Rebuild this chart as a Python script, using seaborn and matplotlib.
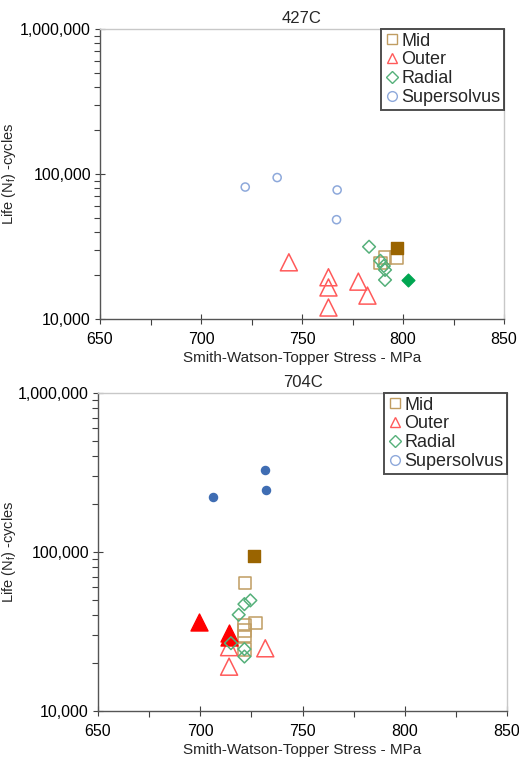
import numpy as np
import pandas as pd
import matplotlib
matplotlib.use("Agg")
import matplotlib.pyplot as plt
import seaborn as sns
from matplotlib.ticker import FuncFormatter, LogLocator, MultipleLocator, NullFormatter
from matplotlib.lines import Line2D

sns.set_theme(style="white")
plt.rcParams['font.family'] = ['Liberation Sans', 'DejaVu Sans']
plt.rcParams['mathtext.default'] = 'regular'

# ---------------- data: 427C ----------------
t427_mid_x = [788.8, 791.1, 796.7]
t427_mid_y = [24400, 26600, 26600]
t427_mid_fill_x = [797.2]
t427_mid_fill_y = [30700]
t427_outer_x = [743.5, 763.1, 763.1, 763.1, 777.9, 782.4]
t427_outer_y = [24600, 19400, 16500, 12000, 18100, 14500]
t427_radial_x = [783.2, 788.8, 790.5, 791.1, 791.1]
t427_radial_y = [31500, 25200, 23200, 21800, 18600]
t427_radial_fill_x = [802.5]
t427_radial_fill_y = [18600]
t427_super_x = [721.9, 737.7, 767.4, 767.1]
t427_super_y = [81300, 94500, 77600, 48400]

# ---------------- data: 704C ----------------
t704_mid_x = [722.0, 727.0, 721.7, 721.7, 721.7, 721.7]
t704_mid_y = [63700, 35700, 34800, 32100, 29700, 24400]
t704_mid_fill_x = [726.1]
t704_mid_fill_y = [95000]
t704_outer_x = [714.1, 714.1, 731.8]
t704_outer_y = [25200, 19000, 24800]
t704_outer_fill_x = [699.2, 714.2, 714.2]
t704_outer_fill_y = [36500, 31000, 29000]
t704_radial_x = [724.5, 721.6, 718.8, 715.0, 721.6, 721.6]
t704_radial_y = [49600, 47000, 40300, 26700, 24500, 22000]
t704_super_fill_x = [706.1, 731.7, 732.2]
t704_super_fill_y = [221000, 329000, 245000]

titles = ["427C", "704C"]
series_names = ["Mid", "Outer", "Radial", "Supersolvus"]
x_label = "Smith-Watson-Topper Stress - MPa"
y_label = r"Life (N$_f$) -cycles"

colors_open = {"Mid": "#C09D62", "Outer": "#FF5A5A", "Radial": "#55B07A", "Supersolvus": "#8EA9DB"}
colors_fill = {"Mid": "#9A6400", "Outer": "#FF0000", "Radial": "#00A651", "Supersolvus": "#3F6DB3"}
markers = {"Mid": "s", "Outer": "^", "Radial": "D", "Supersolvus": "o"}
sizes = {"Mid": 80, "Outer": 150, "Radial": 42, "Supersolvus": 34}


def make_df(x, y, name, filled):
    return pd.DataFrame({"x": x, "y": y, "series": name, "filled": filled})


panels = [
    pd.concat([
        make_df(t427_mid_x, t427_mid_y, "Mid", False),
        make_df(t427_mid_fill_x, t427_mid_fill_y, "Mid", True),
        make_df(t427_outer_x, t427_outer_y, "Outer", False),
        make_df(t427_radial_x, t427_radial_y, "Radial", False),
        make_df(t427_radial_fill_x, t427_radial_fill_y, "Radial", True),
        make_df(t427_super_x, t427_super_y, "Supersolvus", False),
    ], ignore_index=True),
    pd.concat([
        make_df(t704_mid_x, t704_mid_y, "Mid", False),
        make_df(t704_mid_fill_x, t704_mid_fill_y, "Mid", True),
        make_df(t704_outer_x, t704_outer_y, "Outer", False),
        make_df(t704_outer_fill_x, t704_outer_fill_y, "Outer", True),
        make_df(t704_radial_x, t704_radial_y, "Radial", False),
        make_df(t704_super_fill_x, t704_super_fill_y, "Supersolvus", True),
    ], ignore_index=True),
]

fig = plt.figure(figsize=(5.19, 7.6), dpi=100)
axes_pos = [
    [100 / 519, 1 - 319 / 760, 404 / 519, 290 / 760],
    [98 / 519, 1 - 711 / 760, 409 / 519, 318 / 760],
]

for df, title, pos in zip(panels, titles, axes_pos):
    ax = fig.add_axes(pos)
    for name in series_names:
        for filled in (False, True):
            sub = df[(df.series == name) & (df.filled == filled)]
            if sub.empty:
                continue
            if filled:
                sns.scatterplot(data=sub, x="x", y="y", ax=ax, marker=markers[name],
                                s=sizes[name], color=colors_fill[name],
                                edgecolor=colors_fill[name], linewidth=1.0, zorder=3)
            else:
                sns.scatterplot(data=sub, x="x", y="y", ax=ax, marker=markers[name],
                                s=sizes[name], color=colors_open[name],
                                facecolor="none", edgecolor=colors_open[name],
                                linewidth=1.1, zorder=3)
    ax.set_yscale("log")
    ax.set_xlim(650, 850)
    ax.set_ylim(10000, 1000000)
    ax.xaxis.set_major_locator(MultipleLocator(50))
    ax.xaxis.set_minor_locator(MultipleLocator(25))
    ax.yaxis.set_major_locator(LogLocator(base=10))
    ax.yaxis.set_minor_locator(LogLocator(base=10, subs=np.arange(2, 10)))
    ax.yaxis.set_minor_formatter(NullFormatter())
    ax.yaxis.set_major_formatter(FuncFormatter(lambda v, p: f"{int(round(v)):,}"))
    ax.tick_params(axis="both", which="major", direction="inout", length=7, width=0.8,
                   color="#404040", labelsize=11.5, labelcolor="black", pad=3,
                   bottom=True, left=True)
    ax.tick_params(axis="both", which="minor", direction="out", length=4, width=0.8,
                   color="#404040", bottom=True, left=True)
    ax.tick_params(axis="x", which="major", pad=6)
    for s in ["left", "bottom"]:
        ax.spines[s].set_color("#555555")
        ax.spines[s].set_linewidth(1.0)
    for s in ["top", "right"]:
        ax.spines[s].set_color("#C8C8C8")
        ax.spines[s].set_linewidth(1.0)
    ax.set_xlabel(x_label, fontsize=11, labelpad=3)
    ax.set_ylabel(y_label, fontsize=10.5)
    ax.yaxis.set_label_coords((18 - pos[0] * 519) / (pos[2] * 519), 0.5)
    ax.set_title(title, fontsize=12, pad=4)

    handles = [Line2D([], [], linestyle="none", marker=markers[n], markersize=7 if n != "Radial" else 6,
                      markerfacecolor="none", markeredgecolor=colors_open[n], markeredgewidth=1.0)
               for n in series_names]
    leg = ax.legend(handles, series_names, loc="upper right", fontsize=13,
                    frameon=True, fancybox=False, borderpad=0.2, handletextpad=0.05,
                    handlelength=0.9, labelspacing=0.1, borderaxespad=0.0,
                    bbox_to_anchor=(1.0, 1.0))
    leg.get_frame().set_edgecolor("#222222")
    leg.get_frame().set_linewidth(1.4)

fig.savefig("out.png", dpi=100)
